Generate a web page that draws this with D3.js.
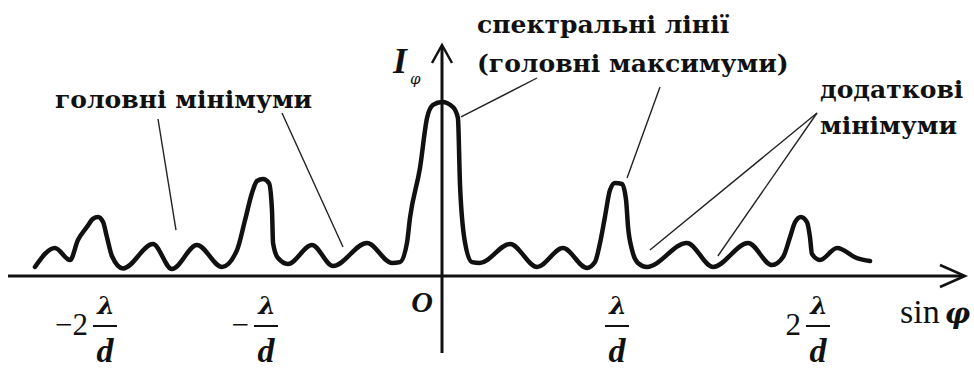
<!DOCTYPE html>
<html>
<head>
<meta charset="utf-8">
<script src="https://cdn.jsdelivr.net/npm/d3@7"></script>
<style>
  body { margin: 0; background: #fff; }
  svg { display: block; }
  text { font-family: "Liberation Serif", serif; fill: #111; }
  text.note, .greek { font-family: "DejaVu Serif", serif; }
</style>
</head>
<body>
<svg id="chart" width="974" height="368"></svg>
<script>
// intensity profile, x in units of lambda/d
const sinPhi = [
  -2.435, -2.311, -2.217, -2.168, -2.112, -2.075, -2.043, -2.012, -1.988, -1.957,
  -1.888, -1.702, -1.584, -1.429, -1.273, -1.180, -1.130, -1.087, -1.056, -1.019,
  -0.983, -0.966, -0.960, -0.932, -0.875, -0.739, -0.619, -0.426, -0.284, -0.239,
  -0.199, -0.182, -0.125, -0.085, -0.051, 0, 0.063, 0.091, 0.103, 0.131,
  0.171, 0.217, 0.389, 0.543, 0.691, 0.829, 0.874, 0.903, 0.931, 0.960,
  0.989, 1.025, 1.045, 1.055, 1.075, 1.104, 1.149, 1.348, 1.478, 1.652,
  1.771, 1.826, 1.861, 1.886, 1.915, 1.945, 1.960, 1.970, 2.010, 2.095,
  2.194, 2.259
];
const intensity = [
  0.052, 0.161, 0.092, 0.207, 0.282, 0.328, 0.339, 0.310, 0.224, 0.115,
  0.043, 0.184, 0.040, 0.178, 0.052, 0.149, 0.322, 0.477, 0.546, 0.557,
  0.534, 0.379, 0.190, 0.103, 0.069, 0.178, 0.057, 0.190, 0.075, 0.080,
  0.190, 0.333, 0.621, 0.908, 0.983, 1.000, 0.971, 0.908, 0.523, 0.195,
  0.080, 0.075, 0.184, 0.052, 0.161, 0.046, 0.080, 0.190, 0.339, 0.494,
  0.534, 0.529, 0.437, 0.282, 0.149, 0.075, 0.052, 0.190, 0.052, 0.190,
  0.063, 0.109, 0.224, 0.310, 0.339, 0.310, 0.224, 0.126, 0.092, 0.161,
  0.103, 0.086
];

const tickValues = [-2, -1, 0, 1, 2];
const tickPrefix = ['\u22122', '\u2212', '', '', '2'];

// labels and the points (in data units) their leader lines go to
const minimaText = ['головні мінімуми'];
const minimaTargets = [[-1.559, 0.264], [-0.5625, 0.167]];
const spectralText = ['спектральні лінії', '(головні максимуми)'];
const spectralTargets = [[0.109, 0.914], [1.050, 0.563]];
const extraText = ['додаткові', 'мінімуми'];
const extraTargets = [[1.164, 0.149], [1.502, 0.115]];

const svg = d3.select('#chart');

const x = d3.scaleLinear().domain(tickValues).range([105, 266, 442, 617, 818]);
const y = d3.scaleLinear().domain([0, 1]).range([276, 102]);

const x0 = x(0), y0 = y(0);

// axes with open arrow heads
svg.append('line')
  .attr('x1', 8).attr('x2', 964)
  .attr('y1', y0).attr('y2', y0)
  .attr('stroke', '#111').attr('stroke-width', 3);
svg.append('path')
  .attr('d', `M${940},${y0 - 11} L${965},${y0} L${940},${y0 + 11}`)
  .attr('fill', 'none').attr('stroke', '#111').attr('stroke-width', 2.5);

svg.append('line')
  .attr('x1', x0).attr('x2', x0)
  .attr('y1', 353).attr('y2', 46)
  .attr('stroke', '#111').attr('stroke-width', 3);
svg.append('path')
  .attr('d', `M${x0 - 10},${63} L${x0},${45} L${x0 + 10},${63}`)
  .attr('fill', 'none').attr('stroke', '#111').attr('stroke-width', 2.5);

// the curve
const pts = sinPhi.map((s, i) => [s, intensity[i]]);
const line = d3.line()
  .x(d => x(d[0]))
  .y(d => y(d[1]))
  .curve(d3.curveMonotoneX);

svg.append('path')
  .datum(pts)
  .attr('d', line)
  .attr('fill', 'none')
  .attr('stroke', '#111')
  .attr('stroke-width', 4.5)
  .attr('stroke-linejoin', 'round')
  .attr('stroke-linecap', 'round');

// tick labels: coefficient + lambda/d fraction
const ticks = svg.selectAll('g.tick')
  .data(tickValues.map((v, i) => ({ v: v, pre: tickPrefix[i] })))
  .enter().append('g')
  .attr('class', 'tick')
  .attr('transform', d => `translate(${x(d.v)},0)`);

ticks.filter(d => d.v !== 0).each(function(d) {
  const g = d3.select(this);
  g.append('text')
    .attr('class', 'greek')
    .attr('x', 1).attr('y', 314)
    .attr('text-anchor', 'middle')
    .style('font-size', '25px').style('font-weight', 'bold').style('font-style', 'italic')
    .text('λ');
  g.append('line')
    .attr('x1', -12).attr('x2', 12)
    .attr('y1', 326).attr('y2', 326)
    .attr('stroke', '#111').attr('stroke-width', 2);
  g.append('text')
    .attr('x', 0).attr('y', 362)
    .attr('text-anchor', 'middle')
    .style('font-size', '34px').style('font-weight', 'bold').style('font-style', 'italic')
    .text('d');
  if (d.pre) {
    g.append('text')
      .attr('x', -17).attr('y', 335)
      .attr('text-anchor', 'end')
      .style('font-size', '31px')
      .text(d.pre);
  }
});

ticks.filter(d => d.v === 0).append('text')
  .attr('x', -20).attr('y', 312)
  .attr('text-anchor', 'middle')
  .style('font-size', '30px').style('font-weight', 'bold').style('font-style', 'italic')
  .text('O');

// axis titles
svg.append('text')
  .attr('x', 393).attr('y', 73)
  .style('font-size', '36px').style('font-weight', 'bold').style('font-style', 'italic')
  .text('I');
svg.append('text')
  .attr('class', 'greek')
  .attr('x', 410).attr('y', 84)
  .style('font-size', '15px').style('font-style', 'italic')
  .text('φ');

const sinT = svg.append('text')
  .attr('x', 900).attr('y', 323)
  .style('font-size', '34px');
sinT.append('tspan').text('sin');
sinT.append('tspan').attr('class', 'greek').attr('dx', 5)
  .style('font-size', '28px')
  .style('font-weight', 'bold').style('font-style', 'italic')
  .text('φ');

// annotations
function note(lines, tx, ty, lh, from, targets) {
  const t = svg.append('text')
    .attr('class', 'note')
    .attr('x', tx).attr('y', ty)
    .style('font-size', '25px').style('font-weight', 'bold');
  lines.forEach((s, i) => {
    t.append('tspan').attr('x', tx).attr('dy', i ? lh : 0).text(s);
  });
  targets.forEach((p, i) => {
    const f = from[i] || from[0];
    svg.append('line')
      .attr('x1', f[0]).attr('y1', f[1])
      .attr('x2', x(p[0])).attr('y2', y(p[1]))
      .attr('stroke', '#222').attr('stroke-width', 1.4);
  });
}

note(minimaText, 55, 108, 0, [[158, 119], [282, 113]], minimaTargets);
note(spectralText, 477, 33, 39, [[537, 78], [660, 87]], spectralTargets);
note(extraText, 820, 98, 36, [[817, 113]], extraTargets);
</script>
</body>
</html>
